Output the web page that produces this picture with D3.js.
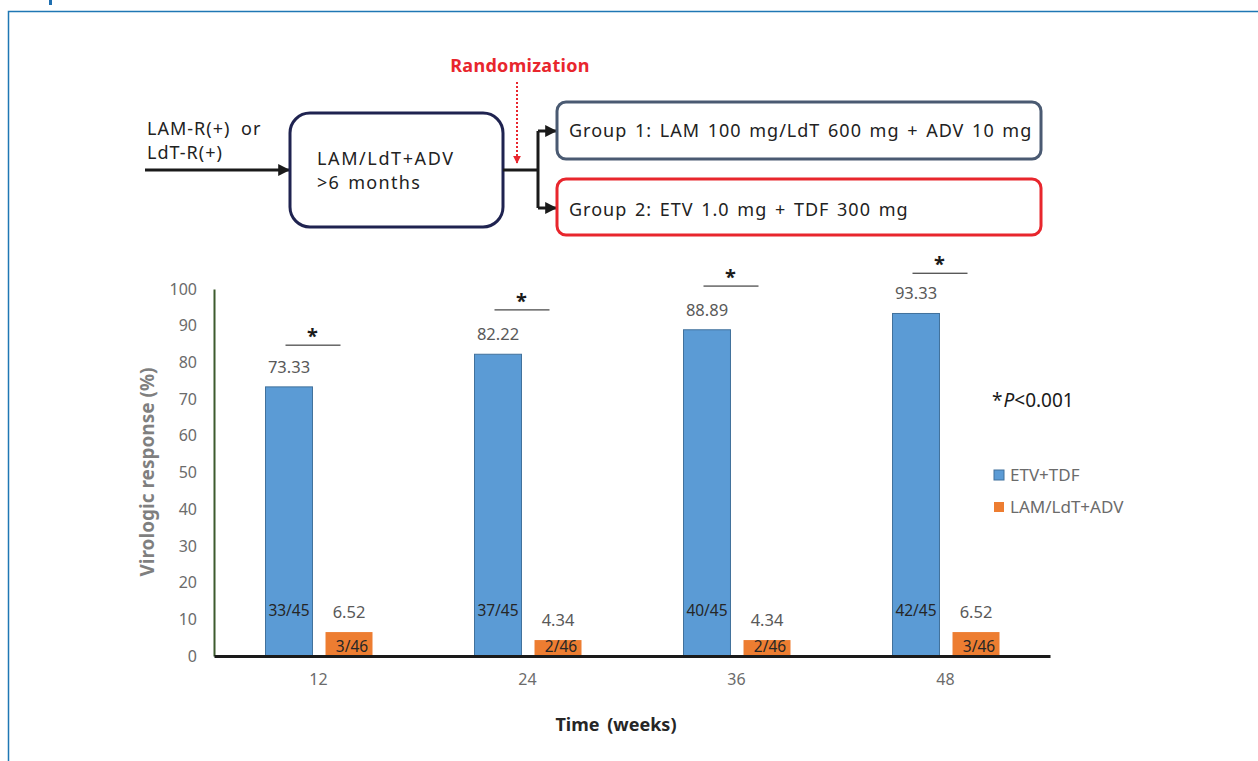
<!DOCTYPE html>
<html>
<head>
<meta charset="utf-8">
<script src="https://cdn.jsdelivr.net/npm/d3@7"></script>
<style>
  html, body { margin: 0; padding: 0; background: #fff; }
  svg { display: block; font-family: "Noto Sans", "Open Sans", sans-serif; }
</style>
</head>
<body>
<svg id="chart" width="1258" height="761"></svg>
<script>
// chart data
const weeks = ['12', '24', '36', '48']
const seriesNames = ['ETV+TDF', 'LAM/LdT+ADV']
const etvTdf = [73.33, 82.22, 88.89, 93.33]
const lamAdv = [6.52, 4.34, 4.34, 6.52]
const etvCounts = ['33/45', '37/45', '40/45', '42/45']
const lamCounts = ['3/46', '2/46', '2/46', '3/46']
const sigLevel = [84.7, 94.3, 100.8, 104.3] // height of the * bracket
const yTicks = [0, 10, 20, 30, 40, 50, 60, 70, 80, 90, 100]

const colors = { 'ETV+TDF': '#5b9bd5', 'LAM/LdT+ADV': '#ed7d31' }
const FONT = '"Noto Sans", "Open Sans", sans-serif'

const svg = d3.select('#chart')

// frame
svg.append('path')
  .attr('d', 'M8.5,761 V11.5 H1258')
  .attr('fill', 'none')
  .attr('stroke', '#1f77b4')
  .attr('stroke-width', 1.5)
svg.append('rect').attr('x', 49).attr('y', 0).attr('width', 3).attr('height', 5).attr('fill', '#1f6fb0')

// ---------- flow diagram ----------
const defs = svg.append('defs')
defs.append('marker')
  .attr('id', 'arr').attr('viewBox', '0 0 10 10')
  .attr('refX', 9).attr('refY', 5)
  .attr('markerWidth', 4).attr('markerHeight', 4)
  .attr('markerUnits', 'strokeWidth')
  .attr('orient', 'auto')
  .append('path').attr('d', 'M0,0 L10,5 L0,10 Z').attr('fill', '#1a1a1a')
defs.append('marker')
  .attr('id', 'arrRed').attr('viewBox', '0 0 10 10')
  .attr('refX', 9).attr('refY', 5)
  .attr('markerWidth', 4).attr('markerHeight', 4)
  .attr('markerUnits', 'strokeWidth')
  .attr('orient', 'auto')
  .append('path').attr('d', 'M0,0 L10,5 L0,10 Z').attr('fill', '#e8262d')

const flow = svg.append('g').attr('class', 'flow')
  .attr('font-size', 18).attr('fill', '#222')
  .attr('letter-spacing', 1).attr('word-spacing', 2)

flow.append('text').attr('x', 147).attr('y', 135).attr('word-spacing', 5).text('LAM-R(+) or')
flow.append('text').attr('x', 147).attr('y', 159).text('LdT-R(+)')

flow.append('line')
  .attr('x1', 145).attr('y1', 170).attr('x2', 289).attr('y2', 170)
  .attr('stroke', '#1a1a1a').attr('stroke-width', 3)
  .attr('marker-end', 'url(#arr)')

flow.append('rect')
  .attr('x', 290).attr('y', 113).attr('width', 213).attr('height', 114)
  .attr('rx', 20)
  .attr('fill', '#fff').attr('stroke', '#1f2350').attr('stroke-width', 3)
flow.append('text').attr('x', 317).attr('y', 165).attr('letter-spacing', 1.6).text('LAM/LdT+ADV')
flow.append('text').attr('x', 317).attr('y', 189).attr('letter-spacing', 1.3).text('>6 months')

flow.append('path')
  .attr('d', 'M503,170 H538 M538,131 V208')
  .attr('fill', 'none').attr('stroke', '#1a1a1a').attr('stroke-width', 3)
flow.append('line')
  .attr('x1', 538).attr('y1', 131).attr('x2', 556).attr('y2', 131)
  .attr('stroke', '#1a1a1a').attr('stroke-width', 3).attr('marker-end', 'url(#arr)')
flow.append('line')
  .attr('x1', 538).attr('y1', 208).attr('x2', 556).attr('y2', 208)
  .attr('stroke', '#1a1a1a').attr('stroke-width', 3).attr('marker-end', 'url(#arr)')

flow.append('text')
  .attr('x', 520).attr('y', 72).attr('text-anchor', 'middle')
  .attr('font-size', 18).attr('font-weight', 'bold').attr('fill', '#e8262d')
  .attr('letter-spacing', 0.3).attr('word-spacing', 0)
  .text('Randomization')
flow.append('line')
  .attr('x1', 517).attr('y1', 82).attr('x2', 517).attr('y2', 163)
  .attr('stroke', '#e8262d').attr('stroke-width', 2).attr('stroke-dasharray', '2,2')
  .attr('marker-end', 'url(#arrRed)')

flow.append('rect')
  .attr('x', 557).attr('y', 102).attr('width', 484).attr('height', 57)
  .attr('rx', 9)
  .attr('fill', '#fff').attr('stroke', '#4a5a72').attr('stroke-width', 3)
flow.append('text').attr('x', 569).attr('y', 137)
  .text('Group 1: LAM 100 mg/LdT 600 mg + ADV 10 mg')

flow.append('rect')
  .attr('x', 557).attr('y', 179).attr('width', 484).attr('height', 56)
  .attr('rx', 9)
  .attr('fill', '#fff').attr('stroke', '#e8262d').attr('stroke-width', 3)
flow.append('text').attr('x', 569).attr('y', 216)
  .text('Group 2: ETV 1.0 mg + TDF 300 mg')

// ---------- bar chart ----------
const plotLeft = 214
const plotRight = 1050
const plotTop = 289
const plotBottom = 656

const x0 = d3.scaleBand().domain(weeks).range([plotLeft, plotRight])
const x1 = d3.scaleBand().domain(seriesNames).range([0, 107]).paddingInner(0.217)
const y = d3.scaleLinear().domain([0, 100]).range([plotBottom, plotTop])

const groupOffset = x0.bandwidth() / 2 - 53

const rows = weeks.map((w, i) => ({
  week: w,
  bars: [
    { key: 'ETV+TDF', value: etvTdf[i], count: etvCounts[i] },
    { key: 'LAM/LdT+ADV', value: lamAdv[i], count: lamCounts[i] }
  ],
  sig: sigLevel[i]
}))

const plot = svg.append('g').attr('class', 'plot')

// y axis
const yAxis = plot.append('g')
  .attr('transform', `translate(${plotLeft},0)`)
  .call(d3.axisLeft(y).tickValues(yTicks).tickSize(0).tickPadding(17))
yAxis.select('.domain').attr('stroke', '#3d5b2e').attr('stroke-width', 2)
yAxis.selectAll('text')
  .attr('font-size', 16).attr('fill', '#6b6b6b')
  .attr('font-family', FONT)

const group = plot.selectAll('.group')
  .data(rows)
  .join('g')
  .attr('class', 'group')
  .attr('transform', d => `translate(${x0(d.week) + groupOffset},0)`)

group.selectAll('rect')
  .data(d => d.bars)
  .join('rect')
  .attr('x', d => x1(d.key))
  .attr('y', d => y(d.value))
  .attr('width', x1.bandwidth())
  .attr('height', d => y(0) - y(d.value))
  .attr('fill', d => colors[d.key])
  .attr('stroke', d => d.key === 'ETV+TDF' ? '#41719c' : 'none')
  .attr('stroke-width', 1)

group.selectAll('.val')
  .data(d => d.bars)
  .join('text')
  .attr('class', 'val')
  .attr('x', d => x1(d.key) + x1.bandwidth() / 2)
  .attr('y', d => y(d.value) - 14)
  .attr('text-anchor', 'middle')
  .attr('font-size', 16.5).attr('fill', '#595959')
  .text(d => d.value.toFixed(2))

group.selectAll('.cnt')
  .data(d => d.bars)
  .join('text')
  .attr('class', 'cnt')
  .attr('x', d => x1(d.key) + x1.bandwidth() / 2 + (d.key === 'ETV+TDF' ? 0 : 3))
  .attr('y', d => d.key === 'ETV+TDF' ? y(0) - 40 : y(0) - 4)
  .attr('text-anchor', 'middle')
  .attr('font-size', 15.5).attr('fill', '#262626')
  .text(d => d.count)

// significance brackets
group.append('line')
  .attr('x1', 20).attr('x2', 75)
  .attr('y1', d => y(d.sig)).attr('y2', d => y(d.sig))
  .attr('stroke', '#1a1a1a').attr('stroke-width', 1)
group.append('text')
  .attr('x', 47).attr('y', d => y(d.sig) - 2)
  .attr('text-anchor', 'middle')
  .attr('font-size', 20).attr('font-weight', 'bold').attr('fill', '#1a1a1a')
  .text('*')

// x axis
const xAxis = plot.append('g')
  .attr('transform', `translate(0,${plotBottom})`)
  .call(d3.axisBottom(x0).tickSize(0).tickPadding(18))
xAxis.select('.domain').attr('stroke', '#1a1a1a').attr('stroke-width', 3)
xAxis.selectAll('text')
  .attr('font-size', 16).attr('fill', '#6b6b6b')
  .attr('font-family', FONT)

// axis titles
svg.append('text')
  .attr('transform', 'translate(154,472) rotate(-90)')
  .attr('text-anchor', 'middle')
  .attr('font-size', 19).attr('font-weight', 'bold').attr('fill', '#7f7f7f')
  .text('Virologic response (%)')
svg.append('text')
  .attr('x', 616).attr('y', 731)
  .attr('text-anchor', 'middle')
  .attr('font-size', 18).attr('font-weight', 'bold').attr('fill', '#262626')
  .attr('word-spacing', 3)
  .text('Time (weeks)')

// p value note
const pNote = svg.append('text')
  .attr('x', 992).attr('y', 407)
  .attr('font-size', 19).attr('fill', '#1a1a1a')
pNote.append('tspan').text('*')
pNote.append('tspan').attr('dx', 1).attr('font-style', 'italic').text('P')
pNote.append('tspan').text('<0.001')

// legend
const legend = svg.append('g')
  .attr('transform', 'translate(994,470)')
const li = legend.selectAll('g')
  .data(seriesNames)
  .join('g')
  .attr('transform', (d, i) => `translate(0,${i * 32})`)
li.append('rect')
  .attr('width', 10).attr('height', 10)
  .attr('fill', d => colors[d])
  .attr('stroke', d => d === 'ETV+TDF' ? '#41719c' : 'none')
li.append('text')
  .attr('x', 16).attr('y', 11)
  .attr('font-size', 17).attr('fill', '#6b6b6b')
  .text(d => d)
</script>
</body>
</html>
